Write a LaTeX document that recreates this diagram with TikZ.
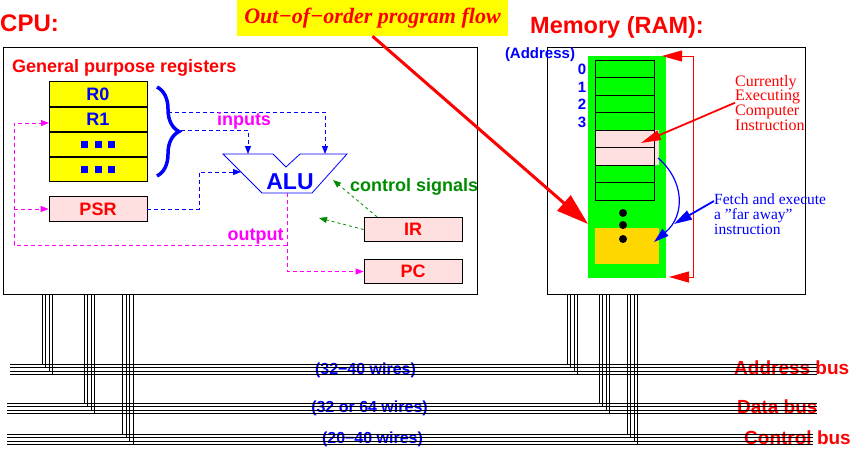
\documentclass[tikz,border=0pt]{standalone}
\usepackage{fontspec}
\setmainfont{Liberation Serif}
\setsansfont{Liberation Sans}
\usetikzlibrary{arrows.meta,decorations.pathreplacing,positioning}

\definecolor{regyellow}{RGB}{255,255,0}
\definecolor{boxpink}{RGB}{255,224,224}
\definecolor{sigblue}{RGB}{0,0,255}
\definecolor{sigred}{RGB}{255,0,0}
\definecolor{sigmagenta}{RGB}{255,0,255}
\definecolor{siggreen}{RGB}{0,140,0}
\definecolor{memgreen}{RGB}{0,255,0}
\definecolor{memgold}{RGB}{255,215,0}

\newcommand{\regdots}{\rule{7pt}{7pt}\hspace{6.5pt}\rule{7pt}{7pt}\hspace{6.5pt}\rule{7pt}{7pt}}

\begin{document}
\begin{tikzpicture}[x=1pt, y=-1pt,
  sf/.style={font=\sffamily\bfseries\fontsize{#1}{#1}\selectfont, inner sep=0pt},
  rm/.style={font=\rmfamily\fontsize{#1}{14.6}\selectfont, inner sep=0pt, align=left},
  reg/.style={draw, fill=regyellow, line width=0.8pt, minimum width=98pt,
    minimum height=24.4pt, inner sep=0pt, text=sigblue, sf=18},
  sreg/.style={draw, fill=boxpink, line width=0.8pt, minimum width=98pt,
    minimum height=24.5pt, inner sep=0pt, text=sigred, sf=18},
  cell/.style={draw, line width=0.7pt, minimum width=59pt, minimum height=17.5pt, inner sep=0pt},
  flow/.style={dash pattern=on 4pt off 3pt, line width=0.8pt},
  tip/.style={-{Triangle[length=8pt,width=6pt]}},
  wire/.style={line width=0.8pt}
]
\useasboundingbox (0,0) rectangle (853,450);

% titles
\node[sf=24, text=sigred, anchor=west] (cputitle) at (0,23) {CPU:};
\node[sf=23.5, text=sigred, anchor=west] (memtitle) at (530,27) {Memory (RAM):};
\node[fill=regyellow, minimum width=271pt, minimum height=36pt, inner sep=0pt, text=sigred,
  font=\rmfamily\bfseries\itshape\fontsize{22}{22}\selectfont] (ooo) at (372.5,18) {Out−of−order program flow};

% CPU and memory frames
\draw[line width=1pt] (3,47) rectangle (477,294);
\draw[line width=1pt] (547,47) rectangle (805,294);

% registers
\node[sf=18, text=sigred, anchor=west] (gpr) at (12,68) {General purpose registers};
\node[reg] (r0) at (98,93.9) {R0};
\node[reg, below=0pt of r0] (r1) {R1};
\node[reg, below=0pt of r1] (r2) {\regdots};
\node[reg, below=0pt of r2] (r3) {\regdots};
\draw[sigblue, line width=3.5pt, decorate, decoration={brace, amplitude=22pt}] (157,87) -- (157,176);
\coordinate (brtop) at (168,112);
\coordinate (brtip) at (181,130);

\node[sreg] (psr) at (98,209) {PSR};
\node[sreg] (ir) at (413,229.5) {IR};
\node[sreg] (pc) at (413,271.5) {PC};

% ALU
\draw[sigblue, line width=0.8pt] (223,154) -- (273,154) -- (286,167) -- (300,154) -- (347,154)
  -- (312,193) -- (262,193) -- cycle;
\node[sf=23, text=sigblue] (alu) at (290,181.5) {ALU};
\coordinate (aluin1) at (248,154);
\coordinate (aluin2) at (325,154);
\coordinate (aluleft) at (241,172);
\coordinate (aluout) at (287,193);

% inputs
\draw[flow, sigblue, tip] (brtop) -| (aluin2);
\draw[flow, sigblue, tip] (brtip) -| (aluin1);
\draw[flow, sigblue, tip] (psr.east) -- ++(52,0) |- (aluleft);
\node[sf=18, text=sigmagenta] (inputs) at (244,121) {inputs};

% output
\coordinate (fb) at (287,245);
\coordinate (fbx) at (14,245);
\coordinate (r1in) at (49,123);
\draw[flow, sigmagenta, tip] (aluout) |- (pc.west);
\draw[flow, sigmagenta, tip] (fb) -- (fbx) |- (r1in);
\draw[flow, sigmagenta, tip] (fbx |- psr.west) -- (psr.west);
\node[sf=18, text=sigmagenta] (output) at (255.5,236) {output};

% control signals
\draw[flow, siggreen, dash pattern=on 3pt off 3pt, tip] ([xshift=-36pt]ir.north) -- (333,180);
\draw[flow, siggreen, dash pattern=on 3pt off 3pt, tip] (ir.west) -- (319,218);
\node[sf=18, text=siggreen, anchor=west] (ctrl) at (350,187) {control signals};

% memory
\fill[memgreen] (588,56) rectangle (666,278);
\fill[boxpink] (595,130) rectangle (659,165);
\foreach \i in {0,...,7}
  \node[cell] (cell\i) at (624.5,68.75+17.5*\i) {};
\fill[memgold] (595,228) rectangle (659,264);
\foreach \y in {213,225,239}
  \fill (623,\y) circle (4pt);

\node[sf=15, text=sigblue] (addr) at (540,55) {(Address)};
\foreach \a/\y in {0/69,1/87,2/104,3/122}
  \node[sf=15, text=sigblue] (a\a) at (582,\y) {\a};

% program span
\coordinate (brktop) at (662,56);
\coordinate (brkbot) at (669,277);
\draw[sigred, line width=1pt, {Triangle[length=20pt,width=11pt]}-{Triangle[length=20pt,width=11pt]}]
  (brktop) -- (693,56) -- (693,277) -- (brkbot);

% notes
\node[rm=16, text=sigred, anchor=north west] (curr) at (735,75)
  {Currently\\Executing\\Computer\\Instruction};
\coordinate (currcell) at (641,143);
\draw[sigred, line width=1.8pt, -{Triangle[length=20pt,width=10pt]}] (curr.west) -- (currcell);

\node[rm=15.5, text=sigblue, anchor=north west] (fetch) at (714,194)
  {Fetch and execute\\a "far away"\\instruction};
\coordinate (faraway) at (674,224);
\draw[sigblue, line width=1.8pt, -{Triangle[length=18pt,width=10pt]}] ([yshift=-7pt]fetch.north west) -- (faraway);
\coordinate (jumpfrom) at (658,158);
\coordinate (jumpto) at (654,242);
\draw[sigblue, line width=1.2pt, -{Triangle[length=15pt,width=9pt]}]
  (jumpfrom) .. controls (684,180) and (686,215) .. (jumpto);

% out-of-order arrow
\coordinate (memfar) at (588,224);
\draw[sigred, line width=3pt, -{Triangle[length=32pt,width=20pt]}] (ooo.south) -- (memfar);

% bus labels
\node[sf=16, text=sigblue] (abw) at (365.5,370) {(32−40 wires)};
\node[sf=16, text=sigblue] (dbw) at (369.5,408) {(32 or 64 wires)};
\node[sf=16, text=sigblue] (cbw) at (372.5,439) {(20−40 wires)};
\node[sf=19, text=sigred, anchor=west] (abus) at (734,368) {Address bus};
\node[sf=19, text=sigred, anchor=west] (dbus) at (737,407) {Data bus};
\node[sf=19, text=sigred, anchor=west] (cbus) at (744,438) {Control bus};

% bus wires
\foreach \by/\xl/\xr in {364/10/817, 403/7/817, 434/7/813}
  \foreach \i in {0,...,3}
    \draw[wire] (\xl,\by+3.6*\i) -- (\xr,\by+3.6*\i);
\foreach \by/\cx/\mx in {364/42/567, 403/84/599, 434/122.5/627}
  \foreach \i in {0,...,3} {
    \draw[wire] (\cx+3.5*\i,294) -- (\cx+3.5*\i,\by+3.6*\i);
    \draw[wire] (\mx+3.5*\i,294) -- (\mx+3.5*\i,\by+3.6*\i);
  }

\end{tikzpicture}
\end{document}
